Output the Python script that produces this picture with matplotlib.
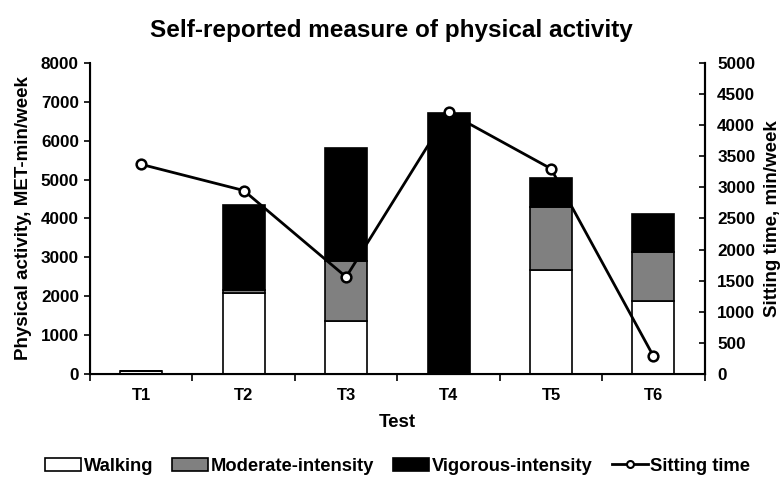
import matplotlib
matplotlib.use("Agg")
import matplotlib.pyplot as plt
import numpy as np
from matplotlib.patches import Patch
from matplotlib.lines import Line2D
from matplotlib.ticker import FixedLocator

plt.rcParams['font.family'] = ['Liberation Sans', 'DejaVu Sans']
plt.rcParams['font.weight'] = 'bold'

categories = ["T1", "T2", "T3", "T4", "T5", "T6"]
walking = [80, 2090, 1370, 0, 2670, 1870]
moderate = [0, 70, 1535, 0, 1620, 1260]
vigorous = [0, 2185, 2905, 6720, 750, 975]
sitting = [3370, 2950, 1560, 4205, 3300, 285]
left_ticks = [0, 1000, 2000, 3000, 4000, 5000, 6000, 7000, 8000]
right_ticks = [0, 500, 1000, 1500, 2000, 2500, 3000, 3500, 4000, 4500, 5000]

fig = plt.figure(figsize=(7.83, 4.78), dpi=100)
ax = fig.add_axes([0.115, 0.2176, 0.785, 0.6506])
x = np.arange(len(categories))
w = 0.41
walking_a = np.array(walking)
moderate_a = np.array(moderate)
vigorous_a = np.array(vigorous)

ax.bar(x, walking_a, w, color='white', edgecolor='black', linewidth=1.2, zorder=2)
ax.bar(x, moderate_a, w, bottom=walking_a, color='#808080', edgecolor='black', linewidth=1.2, zorder=2)
ax.bar(x, vigorous_a, w, bottom=walking_a + moderate_a, color='black', edgecolor='black', linewidth=1.2, zorder=2)

ax.set_xlim(-0.5, len(categories) - 0.5)
ax.set_ylim(0, 8000)
ax.set_yticks(left_ticks)
ax.set_xticks(x)
ax.set_xticklabels(categories, fontsize=12, fontweight='bold')
ax.xaxis.set_minor_locator(FixedLocator(np.arange(-0.5, len(categories), 1.0)))
ax.tick_params(axis='x', which='major', length=0, pad=10)
ax.tick_params(axis='x', which='minor', length=5, width=1.2, direction='out')
ax.tick_params(axis='y', length=4, width=1.2, direction='out', labelsize=12.3, pad=4)
for lab in ax.get_yticklabels():
    lab.set_fontweight('bold')
ax.spines['top'].set_visible(False)
for s in ['left', 'bottom', 'right']:
    ax.spines[s].set_linewidth(1.5)
ax.set_ylabel("Physical activity, MET-min/week", fontsize=13.5, fontweight='bold', labelpad=6)
ax.set_xlabel("Test", fontsize=13.5, fontweight='bold', labelpad=8)

ax2 = ax.twinx()
ax2.plot(x, sitting, color='black', linewidth=2, marker='o', markersize=7,
         markerfacecolor='white', markeredgecolor='black', markeredgewidth=1.8, zorder=3)
ax2.set_ylim(0, 5000)
ax2.set_yticks(right_ticks)
ax2.tick_params(axis='y', length=4, width=1.2, direction='in', labelsize=12.3, pad=9)
for lab in ax2.get_yticklabels():
    lab.set_fontweight('bold')
ax2.spines['top'].set_visible(False)
ax2.spines['right'].set_linewidth(1.5)
ax2.set_ylabel("Sitting time, min/week", fontsize=13.5, fontweight='bold', labelpad=6)

fig.suptitle("Self-reported measure of physical activity", fontsize=17.5, fontweight='bold', y=0.96)

handles = [
    Patch(facecolor='white', edgecolor='black', linewidth=1.2, label='Walking'),
    Patch(facecolor='#808080', edgecolor='black', linewidth=1.2, label='Moderate-intensity'),
    Patch(facecolor='black', edgecolor='black', linewidth=1.2, label='Vigorous-intensity'),
    Line2D([0], [0], color='black', linewidth=2, marker='o', markersize=5,
           markerfacecolor='white', markeredgecolor='black', markeredgewidth=1.5, label='Sitting time'),
]
leg = fig.legend(handles=handles, loc='center', bbox_to_anchor=(0.508, 0.025), ncol=4,
                 frameon=False, handlelength=1.95, handleheight=0.7, handletextpad=0.15,
                 columnspacing=1.05, prop={'family': ['Liberation Sans'], 'weight': 'bold', 'size': 13.2})

fig.savefig("out.png", dpi=100)
